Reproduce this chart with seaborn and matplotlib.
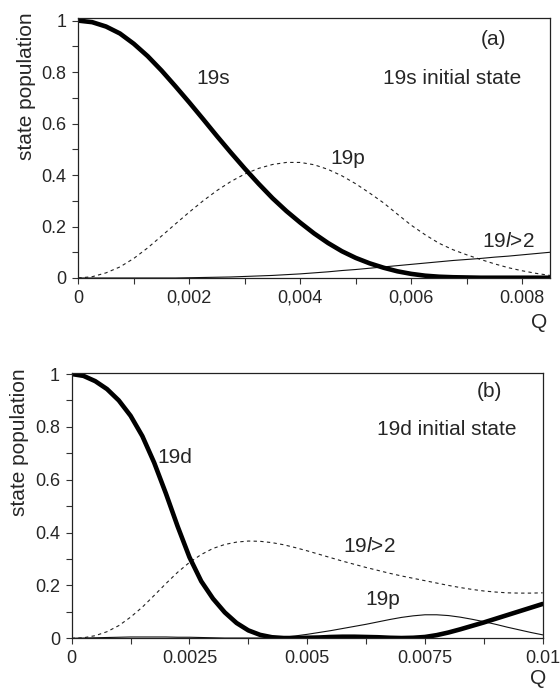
import numpy as np
import pandas as pd
import matplotlib
matplotlib.use("Agg")
import matplotlib.pyplot as plt
from matplotlib.ticker import MultipleLocator
import seaborn as sns

# ---------------- data (Q in units of 1e-3) ----------------
q_a = [0, 0.25, 0.5, 0.75, 1.0, 1.25, 1.5, 1.75, 2.0, 2.25, 2.5, 2.75, 3.0, 3.25,
       3.5, 3.75, 4.0, 4.25, 4.5, 4.75, 5.0, 5.25, 5.5, 5.75, 6.0, 6.25, 6.5, 6.75,
       7.0, 7.25, 7.5, 7.75, 8.0, 8.25, 8.5]
a_19s = [1.000, 0.994, 0.977, 0.950, 0.910, 0.862, 0.806, 0.745, 0.682, 0.617, 0.551,
         0.487, 0.425, 0.366, 0.310, 0.260, 0.215, 0.173, 0.136, 0.104, 0.078, 0.057,
         0.040, 0.026, 0.016, 0.009, 0.005, 0.003, 0.002, 0.001, 0.001, 0.001, 0.001,
         0.001, 0.001]
a_19p = [0.000, 0.005, 0.020, 0.043, 0.076, 0.117, 0.163, 0.210, 0.256, 0.300, 0.340,
         0.375, 0.404, 0.426, 0.441, 0.449, 0.449, 0.440, 0.422, 0.397, 0.366, 0.330,
         0.292, 0.248, 0.205, 0.168, 0.135, 0.110, 0.090, 0.072, 0.055, 0.040, 0.028,
         0.018, 0.010]
a_19l = [0.000, 0.000, 0.000, 0.000, 0.000, 0.000, 0.000, 0.000, 0.001, 0.002, 0.003,
         0.004, 0.006, 0.008, 0.010, 0.013, 0.016, 0.020, 0.024, 0.029, 0.033, 0.038,
         0.043, 0.048, 0.053, 0.058, 0.063, 0.068, 0.072, 0.076, 0.081, 0.085, 0.090,
         0.095, 0.100]

q_b = [0, 0.25, 0.5, 0.75, 1.0, 1.25, 1.5, 1.75, 2.0, 2.25, 2.5, 2.75, 3.0, 3.25,
       3.5, 3.75, 4.0, 4.25, 4.5, 4.75, 5.0, 5.25, 5.5, 5.75, 6.0, 6.25, 6.5, 6.75,
       7.0, 7.25, 7.5, 7.75, 8.0, 8.25, 8.5, 8.75, 9.0, 9.25, 9.5, 9.75, 10.0]
b_19d = [1.000, 0.993, 0.973, 0.943, 0.900, 0.842, 0.765, 0.665, 0.548, 0.423, 0.307,
         0.216, 0.150, 0.098, 0.058, 0.030, 0.013, 0.004, 0.001, 0.001, 0.002, 0.003,
         0.005, 0.006, 0.006, 0.005, 0.004, 0.002, 0.001, 0.002, 0.005, 0.012, 0.022,
         0.034, 0.047, 0.060, 0.074, 0.088, 0.102, 0.116, 0.130]
b_19l = [0.000, 0.002, 0.010, 0.025, 0.048, 0.080, 0.118, 0.162, 0.207, 0.250, 0.287,
         0.317, 0.340, 0.355, 0.364, 0.368, 0.367, 0.362, 0.354, 0.343, 0.331, 0.318,
         0.305, 0.292, 0.280, 0.268, 0.257, 0.246, 0.236, 0.227, 0.218, 0.209, 0.200,
         0.192, 0.185, 0.179, 0.175, 0.172, 0.171, 0.171, 0.172]
b_19p = [0.000, 0.001, 0.002, 0.003, 0.004, 0.005, 0.005, 0.005, 0.005, 0.004, 0.004,
         0.003, 0.002, 0.001, 0.001, 0.001, 0.001, 0.002, 0.004, 0.009, 0.015, 0.022,
         0.029, 0.037, 0.045, 0.053, 0.062, 0.071, 0.079, 0.085, 0.089, 0.089, 0.086,
         0.080, 0.072, 0.063, 0.053, 0.042, 0.032, 0.022, 0.013]

xticks_a = [0, 0.002, 0.004, 0.006, 0.008]
xticklabels_a = ["0", "0,002", "0,004", "0,006", "0.008"]
xticks_b = [0, 0.0025, 0.005, 0.0075, 0.01]
xticklabels_b = ["0", "0.0025", "0.005", "0.0075", "0.01"]
yticks = [0, 0.2, 0.4, 0.6, 0.8, 1.0]
yticklabels = ["0", "0.2", "0.4", "0.6", "0.8", "1"]

# ---------------- style ----------------
sns.set_theme(style="white")
plt.rcParams["font.family"] = ["Liberation Sans", "DejaVu Sans"]
plt.rcParams["mathtext.fontset"] = "custom"
plt.rcParams["mathtext.rm"] = "Liberation Sans"
plt.rcParams["mathtext.it"] = "Liberation Sans:italic"

W, H = 560, 691
fig = plt.figure(figsize=(W / 100, H / 100), dpi=100)

def px_axes(left, right, top, bottom):
    return [left / W, 1 - bottom / H, (right - left) / W, (bottom - top) / H]

axA = fig.add_axes(px_axes(78.3, 550, 18.3, 278))
axB = fig.add_axes(px_axes(71.7, 542.7, 372.7, 638.3))

dash = (0, (3, 3))
thick, thin = 3.3, 0.8

dfa = pd.DataFrame({"Q": np.array(q_a) * 1e-3, "s": a_19s, "p": a_19p, "l": a_19l})
sns.lineplot(data=dfa, x="Q", y="p", ax=axA, color="#222222", lw=thin, linestyle=dash)
sns.lineplot(data=dfa, x="Q", y="l", ax=axA, color="#111111", lw=thin)
sns.lineplot(data=dfa, x="Q", y="s", ax=axA, color="black", lw=thick)

dfb = pd.DataFrame({"Q": np.array(q_b) * 1e-3, "d": b_19d, "l": b_19l, "p": b_19p})
sns.lineplot(data=dfb, x="Q", y="l", ax=axB, color="#222222", lw=thin, linestyle=dash)
sns.lineplot(data=dfb, x="Q", y="p", ax=axB, color="#111111", lw=thin)
sns.lineplot(data=dfb, x="Q", y="d", ax=axB, color="black", lw=thick)

def style_axis(ax, xmax, ytop, xt, xtl, xminor):
    ax.set_xlim(0, xmax)
    ax.set_ylim(0, ytop)
    ax.set_xticks(xt)
    ax.set_xticklabels(xtl)
    ax.set_yticks(yticks)
    ax.set_yticklabels(yticklabels)
    ax.xaxis.set_minor_locator(MultipleLocator(xminor))
    ax.yaxis.set_minor_locator(MultipleLocator(0.1))
    ax.tick_params(axis="both", which="both", direction="out", length=4.5, width=0.8,
                   color="#333333", labelsize=13, pad=4, bottom=True, left=True)
    for sp in ax.spines.values():
        sp.set_visible(True)
        sp.set_color("#222222")
        sp.set_linewidth(0.9)
    ax.set_xlabel("")
    ax.set_ylabel("state population", fontsize=15)
    ax.yaxis.set_label_coords(-0.09, 0.74)

style_axis(axA, 0.0085, 1.009, xticks_a, xticklabels_a, 0.001)
style_axis(axB, 0.01, 1.005, xticks_b, xticklabels_b, 0.00125)

fs = 15
axA.text(0.00749, 0.925, "(a)", fontsize=fs, ha="center", va="center")
axA.text(0.00673, 0.776, "19s initial state", fontsize=fs, ha="center", va="center")
axA.text(0.00243, 0.776, "19s", fontsize=fs, ha="center", va="center")
axA.text(0.00485, 0.465, "19p", fontsize=fs, ha="center", va="center")
axA.text(0.00775, 0.142, r"19$\mathit{l}$>2", fontsize=fs, ha="center", va="center")

axB.text(0.00886, 0.935, "(b)", fontsize=fs, ha="center", va="center")
axB.text(0.00796, 0.789, "19d initial state", fontsize=fs, ha="center", va="center")
axB.text(0.00218, 0.685, "19d", fontsize=fs, ha="center", va="center")
axB.text(0.00632, 0.346, r"19$\mathit{l}$>2", fontsize=fs, ha="center", va="center")
axB.text(0.0066, 0.148, "19p", fontsize=fs, ha="center", va="center")

fig.text(539 / W, 1 - 322 / H, "Q", fontsize=15, ha="center", va="center")
fig.text(538 / W, 1 - 678 / H, "Q", fontsize=15, ha="center", va="center")

fig.savefig("out.png", dpi=100)
